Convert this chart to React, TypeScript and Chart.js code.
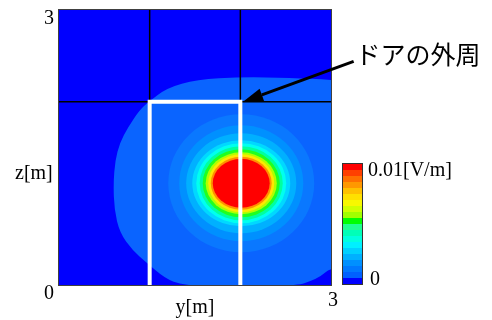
import { useEffect, useRef } from 'react';
import { Chart, registerables } from 'chart.js';

Chart.register(...registerables);

// ---- data (metres, V/m) ----
const axisMin = 0;
const axisMax = 3;
const xTickValues = [3];
const yTickValues = [0, 3];

// outermost contour of the field (y, z)
const outerContourY = [1.36, 1.17, 0.96, 0.81, 0.67, 0.61, 0.6, 0.62, 0.67, 0.76, 0.89, 0.98, 1.19, 1.52, 2.01, 2.55, 3.0, 3.3, 3.3, 3.0, 2.88, 2.77, 2.64, 2.0];
const outerContourZ = [0, 0.07, 0.25, 0.38, 0.57, 0.82, 1.11, 1.36, 1.55, 1.72, 1.91, 1.99, 2.15, 2.24, 2.27, 2.26, 2.24, 2.2, 0.2, 0.19, 0.09, 0.04, 0, -0.05];

// inner contour bands: centre and half-axes (m)
const fieldCenterY = 2.01;
const fieldCenterZ = 1.11;
const bandRadiusY = [0.805, 0.684, 0.607, 0.54, 0.496, 0.458, 0.425, 0.392, 0.364, 0.336, 0.314];
const bandRadiusZ = [0.753, 0.633, 0.545, 0.469, 0.436, 0.404, 0.371, 0.338, 0.316, 0.289, 0.267];
const bandColors = ['#0A78FF', '#0090FF', '#00B0FF', '#00D8FF', '#00FFF0', '#00FFA0', '#20FF20', '#B0FF00', '#FFE800', '#FF9000', '#FF0000'];
const outerBandColor = '#0A64FF';
const fieldBackground = '#0000FF';

// grid lines and door outline
const gridLinesY = [1, 2];
const gridLinesZ = [2];
const doorOutlineY = [1, 1, 2, 2];
const doorOutlineZ = [0, 2, 2, 0];

// annotation
const annotationText = 'ドアの外周';
const annotationY = 3.27;
const annotationZ = 2.51;
const arrowTailY = 3.25;
const arrowTailZ = 2.44;
const arrowTipY = 2.03;
const arrowTipZ = 2.0;

// colour bar (top -> bottom)
const colorbarColors = ['#FF0000', '#FF4000', '#FF7000', '#FF9800', '#FFC000', '#FFE000', '#F8F800', '#D0FF00', '#A0FF00', '#00FF00', '#20FF90', '#00FFB8', '#00FFE0', '#00F0FF', '#00D0FF', '#00B0FF', '#0090FF', '#0078FF', '#0060FF', '#0000FF'];
const colorbarTopLabel = '0.01[V/m]';
const colorbarBottomLabel = '0';

const xTitle = 'y[m]';
const yTitle = 'z[m]';

const serif = '"Liberation Serif", "Times New Roman", serif';

const fieldPlugin = {
  id: 'field',
  beforeDatasetsDraw(chart: any) {
    const { ctx, chartArea: a, scales } = chart;
    const x = scales.x;
    const y = scales.y;
    ctx.save();
    ctx.beginPath();
    ctx.rect(a.left, a.top, a.right - a.left, a.bottom - a.top);
    ctx.clip();
    ctx.fillStyle = fieldBackground;
    ctx.fillRect(a.left, a.top, a.right - a.left, a.bottom - a.top);

    // smooth closed outer contour
    const pts = outerContourY.map((v, i) => [x.getPixelForValue(v), y.getPixelForValue(outerContourZ[i])]);
    const n = pts.length;
    const mid = (p: number[], q: number[]) => [(p[0] + q[0]) / 2, (p[1] + q[1]) / 2];
    ctx.beginPath();
    const m0 = mid(pts[n - 1], pts[0]);
    ctx.moveTo(m0[0], m0[1]);
    for (let i = 0; i < n; i++) {
      const p = pts[i];
      const m = mid(p, pts[(i + 1) % n]);
      ctx.quadraticCurveTo(p[0], p[1], m[0], m[1]);
    }
    ctx.closePath();
    ctx.fillStyle = outerBandColor;
    ctx.fill();

    const cx = x.getPixelForValue(fieldCenterY);
    const cy = y.getPixelForValue(fieldCenterZ);
    bandRadiusY.forEach((r, i) => {
      const rx = x.getPixelForValue(fieldCenterY + r) - cx;
      const ry = cy - y.getPixelForValue(fieldCenterZ + bandRadiusZ[i]);
      ctx.beginPath();
      ctx.ellipse(cx, cy, rx, ry, 0, 0, Math.PI * 2);
      ctx.fillStyle = bandColors[i];
      ctx.fill();
    });

    ctx.strokeStyle = '#000';
    ctx.lineWidth = 1.5;
    gridLinesY.forEach((v) => {
      const px = x.getPixelForValue(v);
      ctx.beginPath();
      ctx.moveTo(px, a.top);
      ctx.lineTo(px, a.bottom);
      ctx.stroke();
    });
    gridLinesZ.forEach((v) => {
      const py = y.getPixelForValue(v);
      ctx.beginPath();
      ctx.moveTo(a.left, py);
      ctx.lineTo(a.right, py);
      ctx.stroke();
    });
    ctx.restore();
  },
  afterDatasetsDraw(chart: any) {
    const { ctx, chartArea: a, scales } = chart;
    const x = scales.x;
    const y = scales.y;
    ctx.save();
    // frame
    ctx.strokeStyle = '#404040';
    ctx.lineWidth = 1;
    ctx.strokeRect(a.left - 0.5, a.top - 0.5, a.right - a.left + 1, a.bottom - a.top + 1);

    // arrow
    const tx = x.getPixelForValue(arrowTailY);
    const ty = y.getPixelForValue(arrowTailZ);
    const hx = x.getPixelForValue(arrowTipY);
    const hy = y.getPixelForValue(arrowTipZ);
    const ang = Math.atan2(hy - ty, hx - tx);
    const headLen = 20;
    const headW = 6.5;
    const bx = hx - headLen * Math.cos(ang);
    const by = hy - headLen * Math.sin(ang);
    ctx.strokeStyle = '#000';
    ctx.lineWidth = 3;
    ctx.beginPath();
    ctx.moveTo(tx, ty);
    ctx.lineTo(bx, by);
    ctx.stroke();
    ctx.fillStyle = '#000';
    ctx.beginPath();
    ctx.moveTo(hx, hy);
    ctx.lineTo(bx + headW * Math.sin(ang), by - headW * Math.cos(ang));
    ctx.lineTo(bx - headW * Math.sin(ang), by + headW * Math.cos(ang));
    ctx.closePath();
    ctx.fill();

    // annotation text
    ctx.font = '25px "Noto Sans CJK JP", sans-serif';
    ctx.textAlign = 'left';
    ctx.textBaseline = 'middle';
    ctx.fillStyle = '#000';
    ctx.fillText(annotationText, x.getPixelForValue(annotationY), y.getPixelForValue(annotationZ));

    // vertical axis title (horizontal text)
    ctx.font = '20px ' + serif;
    ctx.fillText(yTitle, 15, 174);

    // colour bar
    const cbLeft = a.right + 12;
    const cbWidth = 19;
    const cbTop = 164;
    const bandH = 6;
    colorbarColors.forEach((c, i) => {
      ctx.fillStyle = c;
      ctx.fillRect(cbLeft, cbTop + i * bandH, cbWidth, bandH);
    });
    ctx.strokeStyle = '#333';
    ctx.lineWidth = 1;
    ctx.strokeRect(cbLeft - 0.5, cbTop - 0.5, cbWidth + 1, colorbarColors.length * bandH + 1);
    ctx.fillStyle = '#000';
    ctx.font = '20px ' + serif;
    ctx.textBaseline = 'middle';
    ctx.fillText(colorbarTopLabel, cbLeft + 25, cbTop + 7);
    ctx.fillText(colorbarBottomLabel, cbLeft + 27, cbTop + colorbarColors.length * bandH - 4);
    ctx.restore();
  },
};

export default function App() {
  const ref = useRef<HTMLCanvasElement | null>(null);
  useEffect(() => {
    if (!ref.current) return;
    const doorData = doorOutlineY.map((v, i) => ({ x: v, y: doorOutlineZ[i] }));
    const tickFont = { family: serif, size: 20 };
    const chart = new Chart(ref.current, {
      type: 'scatter',
      data: {
        datasets: [
          {
            data: doorData,
            showLine: true,
            borderColor: '#FFFFFF',
            borderWidth: 4,
            pointRadius: 0,
            fill: false,
            tension: 0,
            borderJoinStyle: 'miter',
          } as any,
        ],
      },
      options: {
        animation: false,
        responsive: false,
        maintainAspectRatio: false,
        layout: { padding: { left: 0, top: 10, right: 161, bottom: 0 } },
        plugins: { legend: { display: false }, tooltip: { enabled: false } },
        scales: {
          x: {
            type: 'linear',
            min: axisMin,
            max: axisMax,
            position: 'bottom',
            grid: { display: false, drawTicks: false },
            border: { display: false },
            afterBuildTicks: (s: any) => {
              s.ticks = xTickValues.map((v) => ({ value: v }));
            },
            ticks: {
              font: tickFont,
              color: '#000',
              padding: 4,
              labelOffset: 2,
              maxRotation: 0,
              autoSkip: false,
              callback: (v: any) => String(v),
            },
            title: { display: true, text: xTitle, font: tickFont, color: '#000', padding: { top: 0, bottom: 0 } },
            afterFit: (s: any) => {
              s.height = 35;
              s.paddingLeft = 0;
              s.paddingRight = 0;
            },
          },
          y: {
            type: 'linear',
            min: axisMin,
            max: axisMax,
            position: 'left',
            grid: { display: false, drawTicks: false },
            border: { display: false },
            afterBuildTicks: (s: any) => {
              s.ticks = yTickValues.map((v) => ({ value: v }));
            },
            ticks: {
              font: tickFont,
              color: '#000',
              padding: 5,
              labelOffset: 9,
              autoSkip: false,
              callback: (v: any) => String(v),
            },
            afterFit: (s: any) => {
              s.width = 59;
              s.paddingTop = 0;
              s.paddingBottom = 0;
            },
          },
        },
      },
      plugins: [fieldPlugin],
    });
    return () => chart.destroy();
  }, []);
  return (
    <div style={{ position: 'absolute', left: 0, top: 0, width: 492, height: 320, background: '#fff' }}>
      <canvas ref={ref} width={492} height={320} style={{ display: 'block', width: 492, height: 320 }} />
    </div>
  );
}
